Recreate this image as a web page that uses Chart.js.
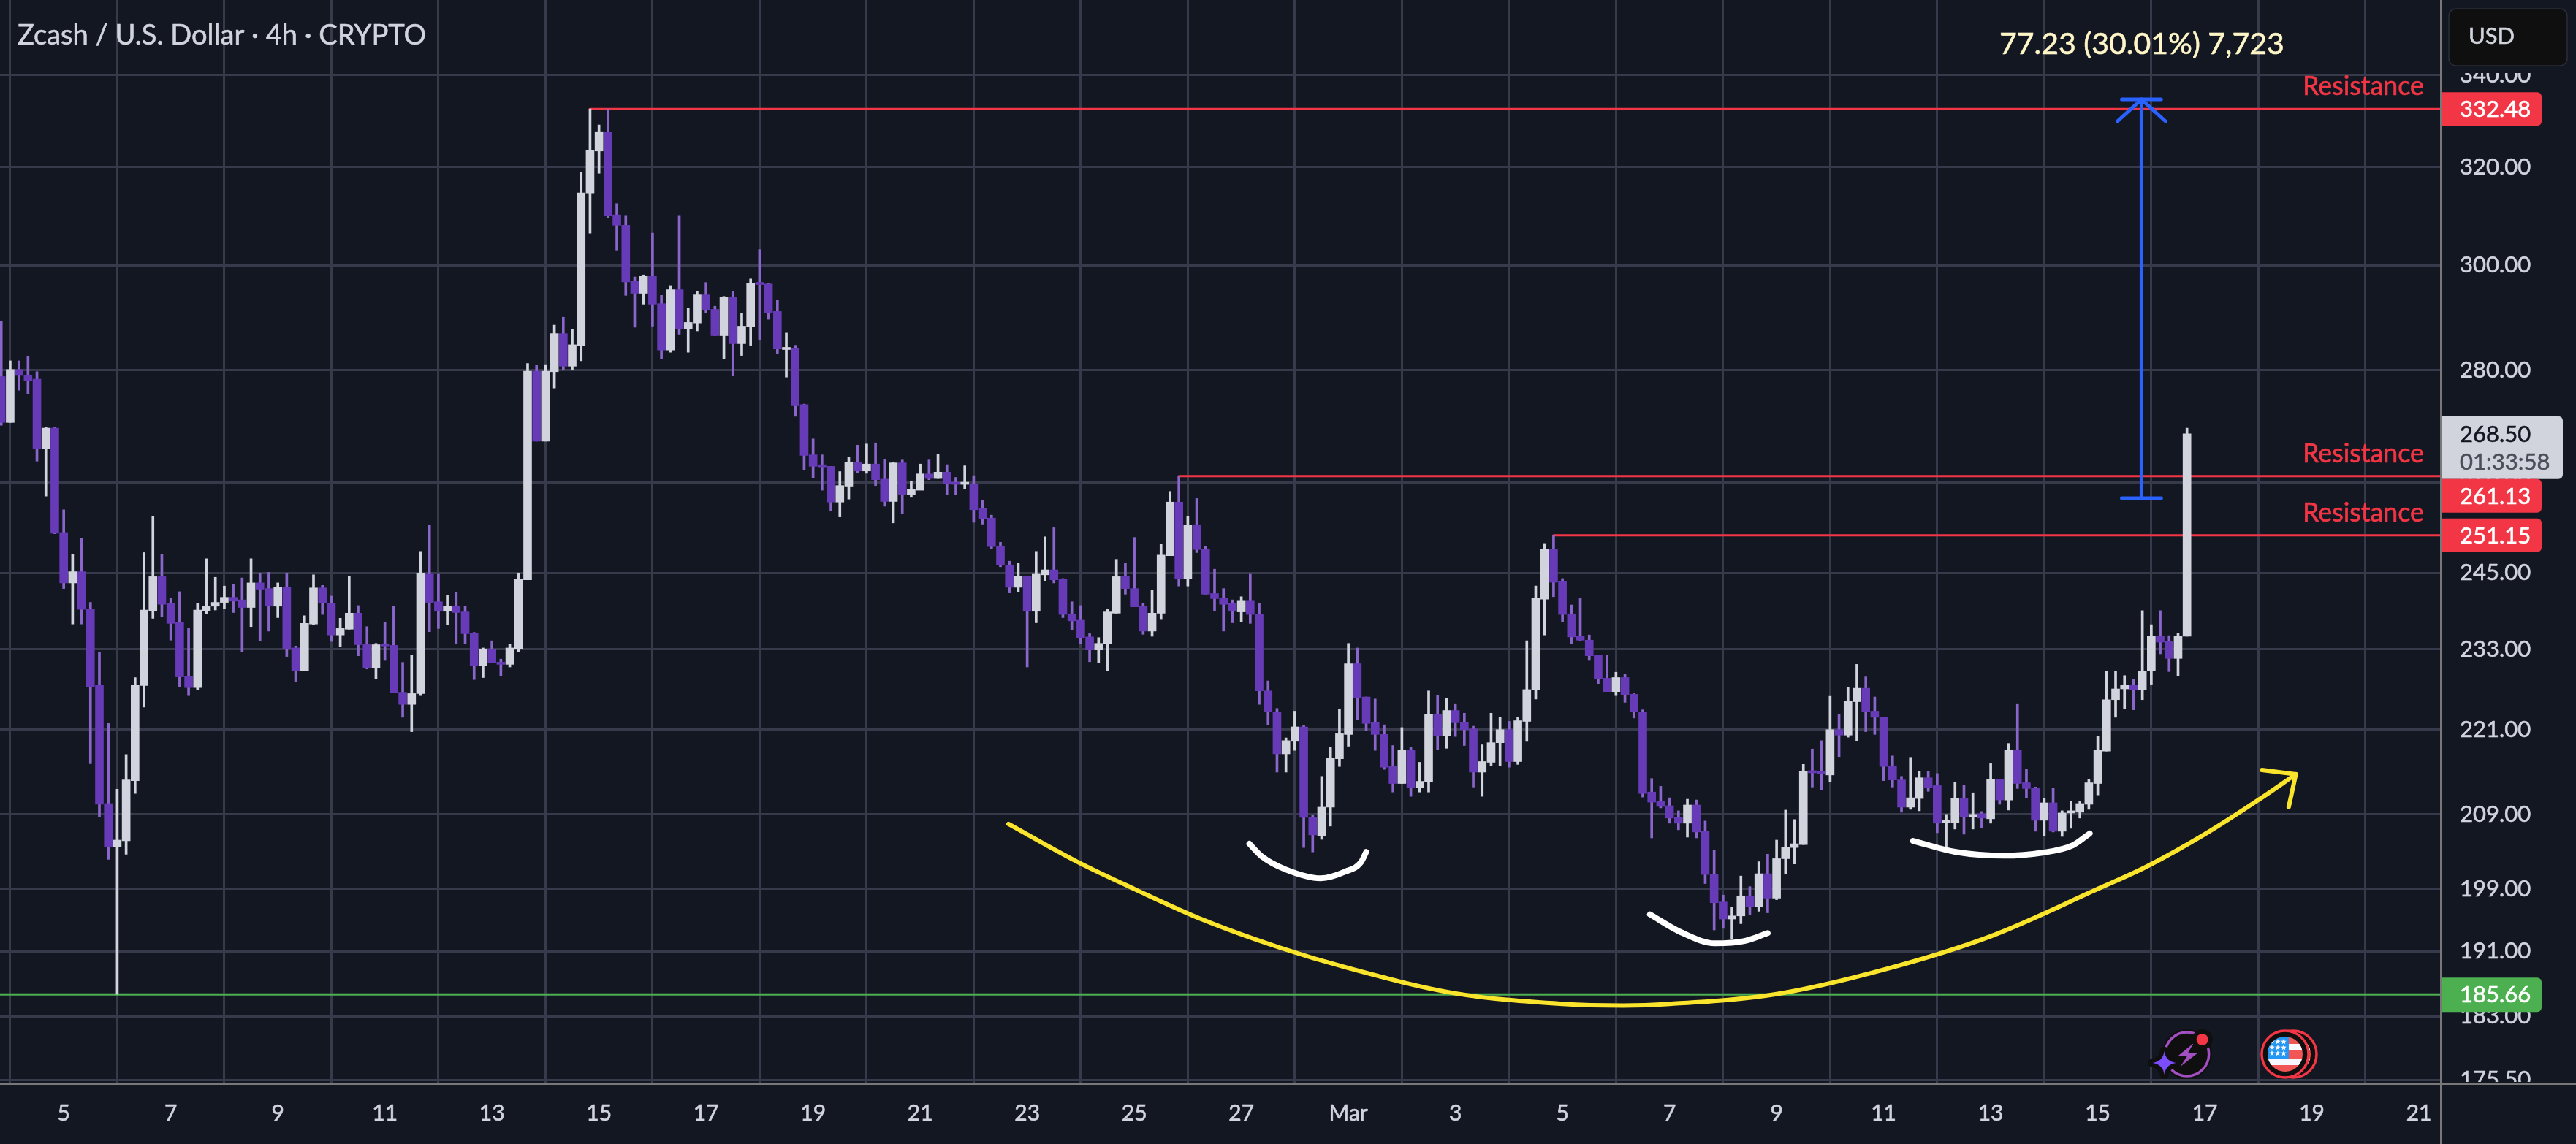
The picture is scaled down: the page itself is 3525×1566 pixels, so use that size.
<!DOCTYPE html>
<html>
<head>
<meta charset="utf-8">
<title>ZEC/USD 4h</title>
<script src="https://cdn.jsdelivr.net/npm/chart.js@4"></script>
<style>
  html, body { margin: 0; padding: 0; background: #131722; }
  canvas { display: block; }
</style>
</head>
<body>
<canvas id="zecChart" width="3525" height="1566"></canvas>
<script>
// 4h candles, oldest first. firstCandle is the offset from Feb 5 00:00, in candles.
const firstCandle = -7;
const opens = [278.8,270.5,280.1,279.0,278.3,265.9,269.5,251.6,243.4,245.2,239.3,227.5,210.5,204.6,205.4,213.7,227.5,239.0,244.4,240.1,237.2,228.9,227.2,239.0,239.7,240.3,241.1,240.7,239.5,243.4,242.5,239.7,242.7,233.2,229.7,236.9,242.6,240.2,235.2,236.1,238.6,233.8,230.2,233.8,233.6,226.5,224.7,226.3,244.8,240.4,238.9,239.7,238.8,235.5,230.5,233.0,231.0,230.7,233.0,243.9,279.8,267.2,279.7,286.8,280.7,284.6,314.6,323.4,327.4,310.1,308.0,296.8,294.5,297.8,292.5,283.7,295.2,287.7,288.8,294.2,291.4,286.4,293.8,284.9,288.1,296.6,296.3,291.0,283.8,284.1,273.7,264.8,263.0,262.8,256.7,259.4,263.5,262.0,263.2,260.6,256.8,263.4,257.9,258.7,261.5,260.7,261.8,259.9,259.7,259.8,255.7,254.0,249.4,246.3,242.7,244.5,238.9,244.7,245.5,244.0,238.5,237.5,234.9,232.9,233.8,238.6,244.4,242.5,239.7,235.8,238.6,247.8,256.7,244.0,252.9,248.9,241.7,241.0,240.1,238.8,240.5,238.4,226.7,223.6,217.5,219.3,221.4,208.6,206.1,210.0,216.8,220.3,230.8,225.8,222.0,220.3,215.7,213.3,218.0,212.7,213.5,223.2,220.1,223.8,222.0,221.1,214.9,216.3,219.1,221.0,216.4,222.2,226.9,240.8,248.9,243.6,238.5,235.0,234.4,232.1,228.6,226.6,228.7,226.2,223.5,212.1,210.8,210.2,208.6,207.8,210.3,206.7,200.9,197.3,195.1,195.5,198.1,196.7,201.0,197.8,203.0,204.5,204.9,215.1,215.0,214.5,221.0,220.2,225.1,227.1,223.7,222.8,215.8,213.8,210.0,211.2,214.1,213.0,207.9,207.9,211.2,208.7,209.1,208.4,213.9,211.0,218.0,213.4,212.6,208.2,210.6,206.7,209.2,209.3,210.4,213.3,217.9,225.4,227.0,227.6,226.9,229.7,235.0,234.2,231.6,235.0];
const highs = [289.1,281.7,281.7,282.6,279.7,269.7,269.6,255.4,248.0,250.6,240.3,232.5,221.9,212.5,217.4,228.7,248.3,254.3,248.0,241.0,242.0,236.2,240.2,247.3,244.3,242.9,243.2,244.2,247.3,245.0,245.1,243.4,245.0,233.5,238.2,244.7,243.0,241.3,237.8,244.5,239.8,236.5,233.9,237.2,239.7,231.0,232.1,248.5,252.8,244.8,241.4,241.9,239.7,235.6,233.2,234.3,231.5,233.8,245.0,281.2,280.9,281.0,288.4,289.9,287.6,319.0,332.48,329.0,332.5,312.4,310.0,297.7,298.1,306.4,294.1,296.0,310.0,291.7,294.9,296.6,292.0,293.9,294.9,290.7,297.3,303.1,296.4,293.2,286.9,284.6,273.8,267.6,264.8,262.8,261.9,264.4,266.5,266.7,266.9,264.0,263.5,263.9,260.3,263.2,263.9,264.9,263.1,260.9,262.9,261.2,257.0,254.5,250.0,246.9,246.6,244.5,248.5,250.9,252.4,244.1,240.4,239.8,235.4,234.8,239.2,247.2,246.6,250.8,240.2,242.2,249.7,258.5,261.13,254.3,257.3,249.3,245.6,242.5,240.7,241.2,244.8,240.2,228.2,224.1,219.8,223.7,221.6,208.9,214.3,218.4,224.0,233.9,233.2,225.8,225.5,221.7,218.7,221.3,218.5,216.3,226.7,226.0,225.6,224.7,223.4,221.5,218.8,223.4,222.8,222.2,222.8,234.3,242.9,249.8,251.15,244.1,239.9,240.9,235.2,232.1,232.1,229.5,229.2,226.3,223.9,214.0,212.9,211.3,209.5,211.1,211.0,208.1,204.1,198.2,196.6,200.7,199.3,202.6,203.6,205.5,209.6,208.3,216.0,218.2,219.4,225.9,223.2,227.2,230.7,228.8,225.8,222.8,217.2,214.3,217.0,215.0,215.0,214.7,209.0,213.5,213.1,212.0,209.4,216.1,213.9,219.0,224.7,215.3,212.8,211.2,212.6,209.5,210.8,210.8,213.9,220.0,229.7,229.6,229.0,228.5,239.0,236.8,239.0,235.1,235.5,269.5];
const lows = [270.0,270.5,276.3,275.7,263.7,257.7,251.4,242.5,236.9,236.9,216.1,208.7,202.9,185.66,203.6,211.9,224.3,237.8,238.0,234.4,227.3,226.0,226.9,238.5,239.1,239.3,238.7,232.6,236.5,234.3,235.8,237.9,231.9,228.1,229.7,236.8,238.4,234.2,233.4,236.1,232.0,230.0,228.5,231.3,226.4,222.8,220.7,226.0,235.7,236.2,236.8,233.9,233.8,228.4,228.7,231.0,229.0,230.3,232.6,243.9,267.2,267.2,276.7,280.0,280.1,281.7,306.4,318.7,309.5,303.0,294.1,288.0,292.4,288.2,282.1,283.3,286.7,283.3,287.3,290.7,286.4,282.1,278.9,282.7,284.6,285.7,289.5,283.1,278.7,271.6,262.2,260.8,258.7,255.2,254.2,257.2,261.7,261.6,259.5,256.0,253.2,254.8,257.5,258.8,260.5,260.7,258.0,258.0,258.9,253.3,253.0,249.0,246.0,241.8,242.0,230.3,237.1,243.7,243.4,237.9,236.0,233.8,231.1,230.9,229.7,238.6,241.6,239.6,235.3,235.0,237.6,247.8,242.9,242.9,248.3,241.6,239.0,235.8,237.1,237.3,237.0,224.7,221.7,214.9,214.9,218.0,204.5,203.9,205.6,207.4,215.7,218.6,222.4,220.9,218.0,215.3,212.1,213.3,211.5,212.1,212.1,218.1,218.3,220.0,218.7,212.8,211.5,215.8,215.8,215.6,216.0,219.3,225.5,235.2,241.2,237.2,233.9,234.3,231.3,227.8,226.6,226.0,225.0,222.7,211.4,205.8,209.9,207.8,206.9,205.9,205.8,199.7,193.7,193.9,192.6,194.5,195.6,196.1,195.9,197.6,201.0,202.3,204.9,212.8,212.4,213.5,217.1,219.9,219.4,220.7,220.3,213.7,212.8,209.3,209.7,209.5,212.2,206.5,204.1,207.0,206.3,207.0,207.2,207.8,210.4,209.6,212.6,211.3,206.7,206.1,206.6,206.0,207.1,208.5,209.7,211.7,217.9,222.8,224.0,223.9,225.4,227.7,232.3,229.6,228.9,235.0];
const closes = [270.5,280.1,279.0,278.1,265.9,269.5,251.5,243.4,245.2,239.2,227.3,210.4,204.6,205.5,213.8,227.6,239.1,244.4,240.0,237.0,228.8,227.2,239.1,239.7,240.3,241.1,240.5,239.5,243.4,242.4,239.7,242.7,233.1,229.7,237.0,242.6,240.2,235.2,236.2,238.6,233.7,230.2,233.7,233.5,226.4,224.7,226.3,244.9,240.3,238.9,239.7,238.7,235.4,230.5,233.0,231.0,230.7,233.2,244.0,279.8,267.2,279.8,286.8,280.7,284.7,314.6,323.5,327.4,310.0,308.0,296.7,294.5,297.8,292.4,283.7,295.2,287.7,288.9,294.2,291.3,286.4,293.8,284.9,288.2,296.4,296.2,290.7,283.9,284.2,273.5,264.7,262.8,262.7,256.7,259.5,263.5,262.0,263.2,260.5,256.8,263.4,257.9,258.9,261.5,260.7,261.8,259.8,259.7,259.9,255.4,253.9,249.3,246.3,242.7,244.5,238.9,244.8,245.5,243.9,238.4,237.4,234.8,232.9,233.9,238.8,244.4,242.5,239.6,235.8,238.6,247.9,256.7,244.0,252.9,248.8,241.6,240.9,240.0,238.9,240.5,238.4,226.7,223.6,217.5,219.4,221.4,208.6,206.2,210.0,216.9,220.4,230.8,225.7,221.9,220.3,215.6,213.3,218.0,212.7,213.6,223.2,220.1,223.8,222.0,221.0,214.9,216.4,219.1,221.0,216.4,222.3,226.9,240.9,248.9,243.5,238.4,234.9,234.4,232.0,228.5,226.6,228.7,226.1,223.6,211.9,210.7,210.1,208.5,207.8,210.3,206.6,200.9,197.2,195.1,195.5,198.1,196.7,201.0,197.8,203.0,204.5,205.0,215.0,214.8,214.7,221.0,220.2,225.2,227.1,223.6,222.8,215.7,213.8,210.0,211.3,214.1,212.7,207.8,208.1,211.2,208.7,209.0,208.5,213.9,211.0,218.0,213.3,212.6,208.2,210.6,206.7,209.2,209.4,210.5,213.4,218.0,225.4,227.0,227.6,226.9,229.7,235.0,234.1,231.6,235.0,268.5];

const priceTicks = [340, 320, 300, 280, 260, 245, 233, 221, 209, 199, 191, 183, 175.5];
const dayTicks = [0, 12, 24, 36, 48, 60, 72, 84, 96, 108, 120, 132, 144, 156, 168, 180, 192, 204, 216, 228, 240, 252, 264];
const dayLabels = ['5', '7', '9', '11', '13', '15', '17', '19', '21', '23', '25', '27', 'Mar', '3', '5', '7', '9', '11', '13', '15', '17', '19', '21'];

const lastPrice = 268.50;
const countdown = '01:33:58';
const support = 185.66;
const resistances = [332.48, 261.13, 251.15];
const resistanceStarts = [59, 125, 167];
const measureFrom = 257.35;
const measureTo = 334.58;
const measureAt = 232.9;
const measureText = '77.23 (30.01%) 7,723';
const titleText = 'Zcash / U.S. Dollar · 4h · CRYPTO';

// hand drawn curves, as [candle, price]
const bigArc = [[105.9,207.7],[113.6,202.6],[120,199],[127.7,195],[136.2,191.5],[144,188.9],[155.9,185.8],[168,184.5],[174.8,184.3],[180,184.5],[192,185.7],[204,188.7],[216,192.9],[228,199],[233.4,201.9],[240,206.3],[246,211],[250.2,214.6]];
const bigArcHead = [[246.4,215.2],[250.2,214.6],[249.4,210]];
const leftDip = [[132.9,205],[134.3,203.3],[136.9,201.6],[140.9,200.4],[143.7,201.3],[145.4,202.5],[146,203.9]];
const midDip = [[177.8,195.7],[181.3,193.4],[185.1,192],[188.4,192.3],[191,193.3]];
const rightDip = [[207.3,205.4],[212.1,203.9],[217.5,203.4],[221.8,203.8],[225.2,204.8],[227.1,206.4]];

const calendarEvent = 238;
const flagEvent = 249;

const BG = '#131722';
const GRID = '#363a4b';
const AXIS = '#787878';
const TEXT = '#d1d4dc';
const UP = '#d1d4dc';
const DOWN = '#673ab7';
const DOWN_WICK = '#8a66cc';
const RED = '#f23645';
const GREEN = '#4caf50';
const BLUE = '#2962ff';
const YELLOW = '#fbe52c';
const FONT = 'Lato, "Noto Sans", sans-serif';

const xMin = -7.14;
const xMax = 266.45;

const candleX = i => i + firstCandle;
const wicks = highs.map((h, i) => ({ x: candleX(i), y: [lows[i], h] }));
const bodies = opens.map((o, i) => ({ x: candleX(i), y: [Math.min(o, closes[i]), Math.max(o, closes[i])] }));
const candleColors = closes.map((c, i) => (c >= opens[i] ? UP : DOWN));
const wickColors = closes.map((c, i) => (c >= opens[i] ? UP : DOWN_WICK));
const toPoints = list => list.map(p => ({ x: p[0], y: p[1] }));

function stroke(data, color, width, order) {
  return {
    type: 'line', data, borderColor: color, borderWidth: width, order,
    pointRadius: 0, fill: false, borderCapStyle: 'round', borderJoinStyle: 'round'
  };
}

function brush(list, color, width) {
  return { ...stroke(toPoints(list), color, width, 1), cubicInterpolationMode: 'monotone' };
}

// level lines sit behind the candles
const levelLines = resistances.map((r, i) =>
  stroke([{ x: resistanceStarts[i], y: r }, { x: xMax, y: r }], RED, 3, 12));
levelLines.push(stroke([{ x: xMin, y: support }, { x: xMax, y: support }], GREEN, 3, 12));

const headDrop = 329.8;
const measureLines = [
  stroke([{ x: measureAt, y: measureFrom }, { x: measureAt, y: measureTo }], BLUE, 5, 2),
  stroke([{ x: measureAt - 2.2, y: measureFrom }, { x: measureAt + 2.2, y: measureFrom }], BLUE, 5, 2),
  stroke([{ x: measureAt - 2.2, y: measureTo }, { x: measureAt + 2.2, y: measureTo }], BLUE, 5, 2),
  stroke([{ x: measureAt - 2.7, y: headDrop }, { x: measureAt, y: measureTo }, { x: measureAt + 2.7, y: headDrop }], BLUE, 5, 2)
];

const brushLines = [
  brush(bigArc, YELLOW, 6),
  stroke(toPoints(bigArcHead), YELLOW, 6, 1),
  brush(leftDip, '#ffffff', 8),
  brush(midDip, '#ffffff', 8),
  brush(rightDip, '#ffffff', 8)
];

function roundBox(ctx, x, y, w, h, r, fill) {
  ctx.beginPath();
  ctx.roundRect(x, y, w, h, r);
  ctx.fillStyle = fill;
  ctx.fill();
}

// fill plus a hairline outline, the thin weights look too light on the dark ground
function label(ctx, text, x, y, color, maxWidth) {
  ctx.fillStyle = color;
  ctx.strokeStyle = color;
  ctx.lineWidth = 0.6;
  ctx.fillText(text, x, y, maxWidth);
  ctx.strokeText(text, x, y, maxWidth);
}

function star(ctx, cx, cy, r) {
  ctx.beginPath();
  for (let k = 0; k < 10; k++) {
    const a = -Math.PI / 2 + k * Math.PI / 5;
    const d = k % 2 ? r * 0.45 : r;
    ctx.lineTo(cx + Math.cos(a) * d, cy + Math.sin(a) * d);
  }
  ctx.closePath();
  ctx.fill();
}

function sparkle(ctx, cx, cy, r) {
  ctx.beginPath();
  ctx.moveTo(cx, cy - r);
  ctx.quadraticCurveTo(cx + 2, cy - 2, cx + r, cy);
  ctx.quadraticCurveTo(cx + 2, cy + 2, cx, cy + r);
  ctx.quadraticCurveTo(cx - 2, cy + 2, cx - r, cy);
  ctx.quadraticCurveTo(cx - 2, cy - 2, cx, cy - r);
  ctx.closePath();
}

// economic calendar bubble: ring, bolt, red dot and sparkle
function drawCalendarIcon(ctx, cx, cy) {
  ctx.fillStyle = '#0f0f0f';
  ctx.beginPath(); ctx.arc(cx, cy, 34, 0, Math.PI * 2); ctx.fill();
  ctx.strokeStyle = '#a24fc1';
  ctx.lineWidth = 3.5;
  ctx.beginPath(); ctx.arc(cx, cy, 30, 0, Math.PI * 2); ctx.stroke();

  ctx.fillStyle = '#a24fc1';
  ctx.beginPath();
  ctx.moveTo(cx + 9, cy - 15);
  ctx.lineTo(cx - 13, cy + 3);
  ctx.lineTo(cx + 0, cy + 3);
  ctx.lineTo(cx - 9, cy + 17);
  ctx.lineTo(cx + 14, cy - 1);
  ctx.lineTo(cx + 1, cy - 1);
  ctx.closePath();
  ctx.fill();

  ctx.fillStyle = '#0f0f0f';
  ctx.beginPath(); ctx.arc(cx + 21, cy - 20, 14, 0, Math.PI * 2); ctx.fill();
  ctx.fillStyle = RED;
  ctx.beginPath(); ctx.arc(cx + 21, cy - 20, 8, 0, Math.PI * 2); ctx.fill();

  sparkle(ctx, cx - 31, cy + 12, 16);
  ctx.strokeStyle = '#0f0f0f';
  ctx.lineWidth = 12;
  ctx.lineJoin = 'round';
  ctx.stroke();
  ctx.fillStyle = '#7c4dff';
  ctx.fill();
}

function flagDisc(ctx, cx, cy) {
  const r = 24;
  ctx.fillStyle = '#0f0f0f';
  ctx.beginPath(); ctx.arc(cx, cy, 31, 0, Math.PI * 2); ctx.fill();
  ctx.strokeStyle = RED;
  ctx.lineWidth = 3.5;
  ctx.beginPath(); ctx.arc(cx, cy, 32, 0, Math.PI * 2); ctx.stroke();

  ctx.save();
  ctx.beginPath(); ctx.arc(cx, cy, r, 0, Math.PI * 2); ctx.clip();
  ctx.fillStyle = '#f15555';
  ctx.fillRect(cx - r, cy - r, r * 2, r * 2);
  ctx.fillStyle = '#f7f8ff';
  ctx.fillRect(cx - r, cy - 14, r * 2, 9);
  ctx.fillRect(cx - r, cy + 6, r * 2, 9);
  ctx.fillStyle = '#2196f3';
  ctx.fillRect(cx - r, cy - r, 29, 30);
  ctx.fillStyle = '#f7f8ff';
  [-18, -10, -2].forEach(dx => [-17, -9, -1].forEach(dy => star(ctx, cx + dx, cy + dy, 4)));
  ctx.restore();
}

// overlay: axis rules, title, price badges and event bubbles
const overlay = {
  id: 'overlay',
  afterDraw(chart) {
    const { ctx, chartArea: area, width, height, scales } = chart;
    const y = scales.y;
    const x = scales.x;

    ctx.save();

    // the first and last tick labels are cut by the button and the time scale
    ctx.fillStyle = BG;
    ctx.fillRect(area.right, 0, width - area.right, 100);
    ctx.fillRect(area.right, area.bottom - 2, width - area.right, height - area.bottom + 2);

    ctx.fillStyle = AXIS;
    ctx.fillRect(area.right - 1, 0, 3, height);
    ctx.fillRect(0, area.bottom - 1, width, 3);

    ctx.textBaseline = 'middle';
    ctx.textAlign = 'left';
    ctx.font = '39px ' + FONT;
    label(ctx, titleText, 24, 48, TEXT, 559);

    ctx.font = '41px ' + FONT;
    label(ctx, measureText, 2736, 61, '#fff6c8', 390);

    ctx.font = '36px ' + FONT;
    label(ctx, 'Resistance', 3151, 118, RED, 166);
    label(ctx, 'Resistance', 3151, 621, RED, 166);
    label(ctx, 'Resistance', 3151, 702, RED, 166);

    const badgeX = area.right + 2;
    const badgeW = 136;
    const radius = [0, 6, 6, 0];
    const textX = 3366;
    ctx.font = '31px ' + FONT;

    // current price tag sits above the stacked level tags
    const lastTop = y.getPixelForValue(lastPrice) - 24;
    roundBox(ctx, badgeX, lastTop, 165, 86, radius, '#d1d4dc');
    label(ctx, lastPrice.toFixed(2), textX, lastTop + 25, '#131722');
    label(ctx, countdown, textX, lastTop + 63, '#4a4e59');

    const tagCentres = [y.getPixelForValue(resistances[0]), lastTop + 86 + 23, y.getPixelForValue(resistances[2])];
    resistances.forEach((r, i) => {
      roundBox(ctx, badgeX, tagCentres[i] - 23, badgeW, 46, radius, RED);
      label(ctx, r.toFixed(2), textX, tagCentres[i] + 1, '#ffffff');
    });

    const supportY = y.getPixelForValue(support);
    roundBox(ctx, badgeX, supportY - 23, badgeW, 47, radius, GREEN);
    label(ctx, support.toFixed(2), textX, supportY + 1, '#ffffff');

    // currency button
    ctx.beginPath();
    ctx.roundRect(3351, 12, 162, 78, 10);
    ctx.fillStyle = '#0f0f0f';
    ctx.fill();
    ctx.strokeStyle = '#2a2e39';
    ctx.lineWidth = 1.5;
    ctx.stroke();
    ctx.font = '31px ' + FONT;
    label(ctx, 'USD', 3378, 50, TEXT, 64);

    const iconY = area.bottom - 40;
    drawCalendarIcon(ctx, x.getPixelForValue(calendarEvent), iconY);
    const flagX = x.getPixelForValue(flagEvent);
    flagDisc(ctx, flagX + 11, iconY);
    flagDisc(ctx, flagX, iconY);

    ctx.restore();
  }
};

// no margin for half a tick label: the plot runs right up to the canvas edges
const noEdgePadding = axis => {
  axis.paddingTop = 0;
  axis.paddingBottom = 0;
  axis.paddingLeft = 0;
  axis.paddingRight = 0;
};

new Chart(document.getElementById('zecChart'), {
  type: 'bar',
  data: {
    datasets: [
      ...brushLines,
      ...measureLines,
      ...levelLines,
      {
        data: bodies, backgroundColor: candleColors, barThickness: 11,
        grouped: false, minBarLength: 3, order: 8
      },
      {
        data: wicks, backgroundColor: wickColors, barThickness: 3,
        grouped: false, order: 9
      }
    ]
  },
  options: {
    responsive: false,
    animation: false,
    events: [],
    layout: { padding: 0 },
    plugins: { legend: { display: false }, title: { display: false }, tooltip: { enabled: false } },
    scales: {
      x: {
        type: 'linear',
        min: xMin,
        max: xMax,
        offset: false,
        afterBuildTicks: axis => { axis.ticks = dayTicks.map(v => ({ value: v })); },
        afterFit: axis => { axis.height = 83; noEdgePadding(axis); },
        grid: { color: GRID, lineWidth: 3, drawTicks: false },
        border: { display: false },
        ticks: {
          color: TEXT,
          font: { family: FONT, size: 30 },
          textStrokeColor: TEXT,
          textStrokeWidth: 0.6,
          padding: 23,
          autoSkip: false,
          maxRotation: 0,
          callback: (value, index) => dayLabels[index]
        }
      },
      y: {
        type: 'logarithmic',
        position: 'right',
        bounds: 'data',
        min: 175.1,
        max: 357.2,
        afterBuildTicks: axis => { axis.ticks = priceTicks.map(v => ({ value: v })); },
        afterFit: axis => { axis.width = 185; noEdgePadding(axis); },
        grid: { color: GRID, lineWidth: 3, drawTicks: false },
        border: { display: false },
        ticks: {
          color: TEXT,
          font: { family: FONT, size: 31 },
          textStrokeColor: TEXT,
          textStrokeWidth: 0.6,
          padding: 26,
          crossAlign: 'near',
          autoSkip: false,
          callback: value => Number(value).toFixed(2)
        }
      }
    }
  },
  plugins: [overlay]
});
</script>
</body>
</html>
